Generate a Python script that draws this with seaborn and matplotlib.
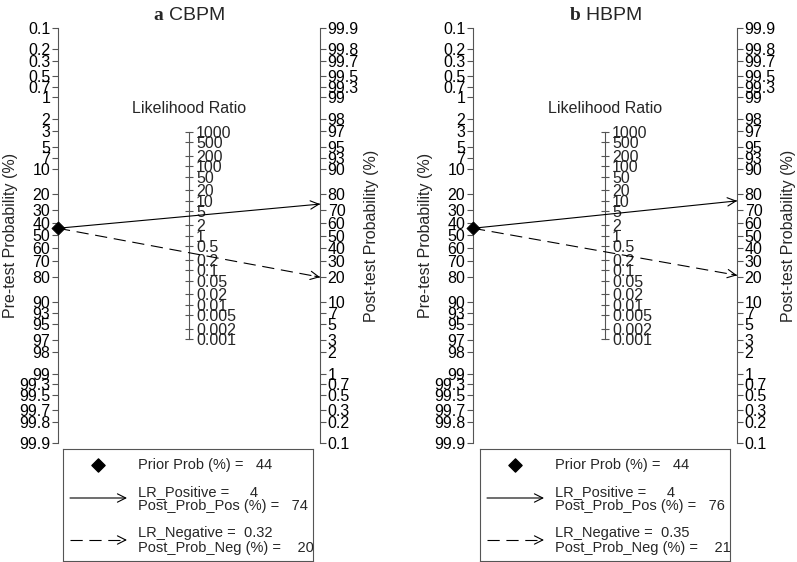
import numpy as np
import pandas as pd
import seaborn as sns
import matplotlib.pyplot as plt

# values
panel_letters = ["a", "b"]
panel_names = ["CBPM", "HBPM"]
prior_prob = [44, 44]
lr_positive = [4, 4]
lr_negative = [0.32, 0.35]
post_prob_pos = [74, 76]
post_prob_neg = [20, 21]

prob_ticks = [0.1, 0.2, 0.3, 0.5, 0.7, 1, 2, 3, 5, 7, 10, 20, 30, 40, 50, 60,
              70, 80, 90, 93, 95, 97, 98, 99, 99.3, 99.5, 99.7, 99.8, 99.9]
lr_ticks = [0.001, 0.002, 0.005, 0.01, 0.02, 0.05, 0.1, 0.2, 0.5, 1, 2, 5,
            10, 20, 50, 100, 200, 500, 1000]

sns.set_style("white")
plt.rcParams["font.family"] = ["Liberation Sans", "DejaVu Sans"]
plt.rcParams["mathtext.fontset"] = "custom"
plt.rcParams["mathtext.bf"] = "Liberation Serif:bold"
plt.rcParams["mathtext.rm"] = "Liberation Sans"

axis_col = "#555555"
W, H = 797, 562


def logit(p):
    p = np.clip(np.asarray(p, dtype=float), 1e-9, 100 - 1e-9)
    return np.log(p / (100 - p))


# inner y unit is the log-odds; left axis runs 0.1 -> 99.9 downwards,
# right axis 99.9 -> 0.1, middle axis is log(LR)/2
pre_fns = (lambda y: 100 / (1 + np.exp(y)), lambda p: -logit(p))
post_fns = (lambda y: 100 / (1 + np.exp(-y)), lambda p: logit(p))
lr_fns = (lambda y: np.exp(2 * y),
          lambda r: np.log(np.clip(r, 1e-300, None)) / 2)

fig = plt.figure(figsize=(W / 100, H / 100), dpi=100)
panel_px = [(58, 320, 63), (473, 737, 480)]  # left axis, right axis, legend box
ymax = float(logit(max(prob_ticks)))
tick_kw = dict(labelsize=11.5, length=4, width=0.8, color=axis_col, pad=1.5,
               labelcolor="black")
arrow_style = "->,head_length=0.6,head_width=0.3"

for i in range(2):
    x0, x1, bx = panel_px[i]
    ax = fig.add_axes([x0 / W, 119 / H, (x1 - x0) / W, 415 / H])
    ax.set_xlim(0, 1)
    ax.set_ylim(-ymax, ymax)
    for s in ax.spines.values():
        s.set_visible(False)
    ax.set_xticks([])
    ax.set_yticks([])
    ax.patch.set_alpha(0)

    # pre-test axis
    left = ax.secondary_yaxis("left", functions=pre_fns)
    left.set_yticks(prob_ticks, labels=[f"{v:g}" for v in prob_ticks])
    left.tick_params(**tick_kw)
    left.spines["left"].set_color(axis_col)
    left.spines["left"].set_linewidth(0.8)
    left.set_ylabel("Pre-test Probability (%)", fontsize=11.5, labelpad=1)

    # post-test axis
    right = ax.secondary_yaxis("right", functions=post_fns)
    right.set_yticks(prob_ticks, labels=[f"{v:g}" for v in prob_ticks])
    right.tick_params(**tick_kw)
    right.spines["right"].set_color(axis_col)
    right.spines["right"].set_linewidth(0.8)
    right.set_ylabel("Post-test Probability (%)", fontsize=11.5, labelpad=4)

    # likelihood ratio axis
    mid = ax.secondary_yaxis(0.5, functions=lr_fns)
    mid.set_yticks(lr_ticks, labels=[f"{v:g}" for v in lr_ticks])
    mid.tick_params(direction="inout", labelsize=11.5, length=6, width=0.8,
                    color=axis_col, pad=2)
    mid.spines["right"].set_bounds(min(lr_ticks), max(lr_ticks))
    mid.spines["right"].set_color(axis_col)
    mid.spines["right"].set_linewidth(0.8)
    ax.text(0.5, 0.807, "Likelihood Ratio", transform=ax.transAxes,
            ha="center", va="center", fontsize=11.5)

    # lines from prior probability to post-test probabilities
    y_pre = float(-logit(prior_prob[i]))
    y_pos = float(logit(post_prob_pos[i]))
    y_neg = float(logit(post_prob_neg[i]))
    lines = pd.DataFrame({
        "x": [0, 1, 0, 1],
        "y": [y_pre, y_pos, y_pre, y_neg],
        "test": ["pos", "pos", "neg", "neg"],
    })
    sns.lineplot(data=lines, x="x", y="y", style="test",
                 dashes={"pos": "", "neg": (11, 6)}, color="black",
                 linewidth=0.8, estimator=None, sort=False, legend=False, ax=ax)
    for y_end in (y_pos, y_neg):
        ax.annotate("", xy=(1, y_end),
                    xytext=(0.98, y_end - 0.02 * (y_end - y_pre)),
                    arrowprops=dict(arrowstyle=arrow_style, color="black",
                                    lw=0.8, shrinkA=0, shrinkB=0,
                                    mutation_scale=10),
                    annotation_clip=False)
    sns.scatterplot(x=[0], y=[y_pre], marker="D", s=45, color="black",
                    edgecolor="black", clip_on=False, zorder=5, ax=ax)
    ax.set_xlabel("")
    ax.set_ylabel("")

    ax.set_title(rf"$\mathbf{{{panel_letters[i]}}}$ {panel_names[i]}",
                 fontsize=14, pad=6)

    # legend box
    box = fig.add_axes([bx / W, 1 / H, 250 / W, 112 / H])
    box.set_xlim(0, 1)
    box.set_ylim(0, 1)
    box.set_xticks([])
    box.set_yticks([])
    for s in box.spines.values():
        s.set_visible(True)
        s.set_color(axis_col)
        s.set_linewidth(0.8)
    box.scatter([0.14], [0.857], marker="D", s=45, color="black")
    box.annotate("", xy=(0.256, 0.5625), xytext=(0.028, 0.5625),
                 arrowprops=dict(arrowstyle=arrow_style, color="black", lw=0.8,
                                 shrinkA=0, shrinkB=0, mutation_scale=10))
    box.plot([0.028, 0.235], [0.1875, 0.1875], color="black", lw=0.8,
             dashes=(11, 6))
    box.annotate("", xy=(0.256, 0.1875), xytext=(0.245, 0.1875),
                 arrowprops=dict(arrowstyle=arrow_style, color="black", lw=0.8,
                                 shrinkA=0, shrinkB=0, mutation_scale=10))
    txt = dict(va="center", ha="left", fontsize=10.5)
    box.text(0.30, 0.857, f"Prior Prob (%) =   {prior_prob[i]}", **txt)
    box.text(0.30, 0.616, f"LR_Positive =     {lr_positive[i]:g}", **txt)
    box.text(0.30, 0.491, f"Post_Prob_Pos (%) =   {post_prob_pos[i]}", **txt)
    box.text(0.30, 0.25, f"LR_Negative =  {lr_negative[i]:.2f}", **txt)
    box.text(0.30, 0.116, f"Post_Prob_Neg (%) =    {post_prob_neg[i]}", **txt)

fig.savefig("out.png", dpi=100, facecolor="white")
